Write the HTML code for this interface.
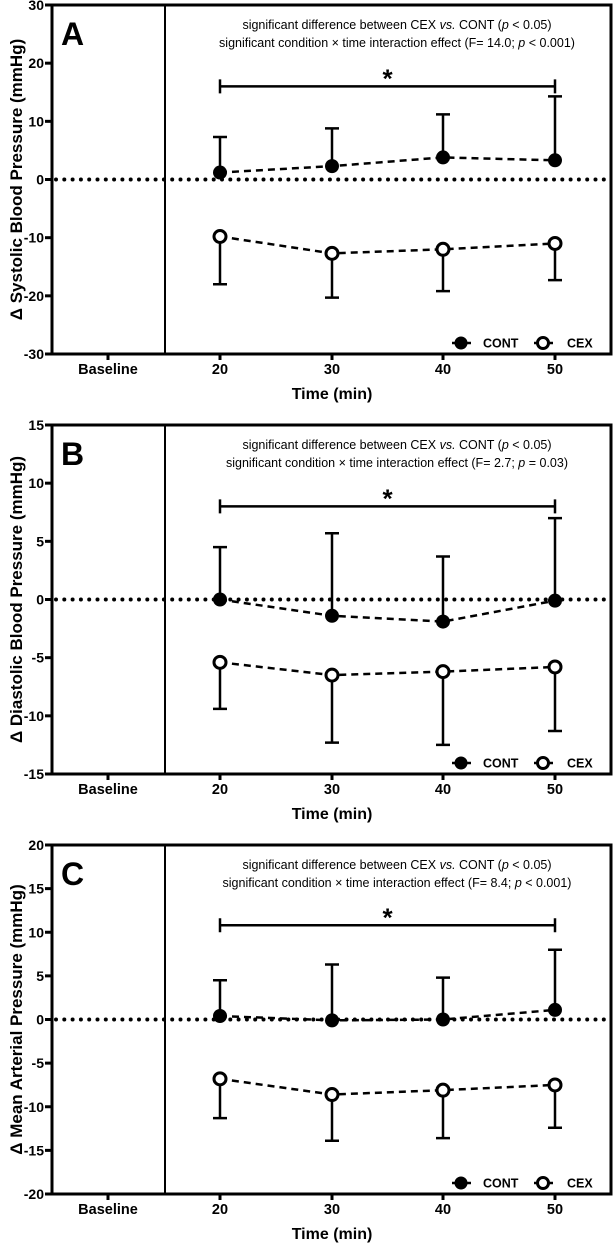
<!DOCTYPE html>
<html><head><meta charset="utf-8"><style>
body{margin:0;background:#fff;}
svg{display:block;font-family:"Liberation Sans",Arial,sans-serif;}
</style></head><body>
<svg id="chart" width="613" height="1249" viewBox="0 0 613 1249" xmlns="http://www.w3.org/2000/svg"></svg>
<script>
const xCats = ["Baseline","20","30","40","50"];
const panelLetters = ["A","B","C"];
const yTitles = ["Δ Systolic Blood Pressure (mmHg)","Δ Diastolic Blood Pressure (mmHg)","Δ Mean Arterial Pressure (mmHg)"];
const statLine2 = ["(F= 14.0; ","(F= 2.7; ","(F= 8.4; "];
const statP = ["p < 0.001)","p = 0.03)","p < 0.001)"];
const yMins = [-30,-15,-20];
const yMaxs = [30,15,20];
const ySteps = [10,5,5];
const sigLevel = [16,8,10.8];
const contA = [1.2,2.3,3.8,3.3];
const contAErr = [7.3,8.8,11.2,14.3];
const cexA = [-9.8,-12.7,-12,-11];
const cexAErr = [-18,-20.3,-19.2,-17.3];
const contB = [0,-1.4,-1.9,-0.1];
const contBErr = [4.5,5.7,3.7,7.0];
const cexB = [-5.4,-6.5,-6.2,-5.8];
const cexBErr = [-9.4,-12.3,-12.5,-11.3];
const contC = [0.4,-0.1,0,1.1];
const contCErr = [4.5,6.3,4.8,8.0];
const cexC = [-6.8,-8.6,-8.1,-7.5];
const cexCErr = [-11.3,-13.9,-13.6,-12.4];
const contS=[contA,contB,contC], contE=[contAErr,contBErr,contCErr];
const cexS=[cexA,cexB,cexC], cexE=[cexAErr,cexBErr,cexCErr];

const NS="http://www.w3.org/2000/svg";
const svg=document.getElementById('chart');
function mk(tag,attrs,parent,text){const e=document.createElementNS(NS,tag);for(const k in attrs)e.setAttribute(k,attrs[k]);if(text!==undefined)e.textContent=text;parent.appendChild(e);return e;}

const L=52,R=611,catX=[108,220,332,443,555];
for(let p=0;p<3;p++){
  const T=5+p*420,B=354+p*420;
  const g=mk('g',{},svg);
  
  
  const y=v=>B-(v-yMins[p])/(yMaxs[p]-yMins[p])*(B-T);
  const x=i=>catX[i];
  const fr=mk('rect',{x:L,y:T,width:R-L,height:B-T,fill:'none',stroke:'#000','stroke-width':3},g);
  
  const vl=mk('line',{x1:165,x2:165,y1:T,y2:B,stroke:'#000','stroke-width':2},g);
  
  for(let v=yMins[p];v<=yMaxs[p];v+=ySteps[p]){
    mk('line',{x1:L-7,x2:L,y1:y(v),y2:y(v),stroke:'#000','stroke-width':3},g);
    const t=mk('text',{x:L-8,y:y(v)+5,'text-anchor':'end','font-size':14,'font-weight':'bold'},g,String(v));
    
  }
  xCats.forEach((c,i)=>{
    mk('line',{x1:x(i),x2:x(i),y1:B,y2:B+6,stroke:'#000','stroke-width':3},g);
    const t=mk('text',{x:x(i),y:B+20,'text-anchor':'middle','font-size':14.5,'font-weight':'bold'},g,c);
    
  });
  const xt=mk('text',{x:332,y:B+45,'text-anchor':'middle','font-size':16,'font-weight':'bold'},g,'Time (min)');
  
  const yt=mk('text',{transform:`translate(22,${(T+B)/2}) rotate(-90)`,'text-anchor':'middle','font-size':17,'font-weight':'bold'},g,yTitles[p]);
  
  const lt=mk('text',{x:61,y:T+40,'font-size':32,'font-weight':'bold'},g,panelLetters[p]);
  
  const s1=mk('text',{x:397,y:T+24,'text-anchor':'middle','font-size':12.5},g);
  
  s1.innerHTML='significant difference between CEX <tspan font-style="italic">vs.</tspan> CONT (<tspan font-style="italic">p</tspan> &lt; 0.05)';
  const s2=mk('text',{x:397,y:T+42,'text-anchor':'middle','font-size':12.5},g);
  
  s2.innerHTML='significant condition × time interaction effect '+statLine2[p]+'<tspan font-style="italic">p</tspan>'+statP[p].slice(1);
  const zl=mk('line',{x1:L+4,x2:R,y1:y(0),y2:y(0),stroke:'#000','stroke-width':4,'stroke-dasharray':'0 8.3','stroke-linecap':'round'},g);
  
  const sy=y(sigLevel[p]);
  const sb=mk('path',{d:`M${x(1)},${sy}H${x(4)}M${x(1)},${sy-7}V${sy+7}M${x(4)},${sy-7}V${sy+7}`,stroke:'#000','stroke-width':2.5,fill:'none'},g);
  
  const st=mk('text',{x:(x(1)+x(4))/2,y:sy+1,'text-anchor':'middle','font-size':26,'font-weight':'bold'},g,'*');
  
  [[contS[p],contE[p],'#000','cont'],[cexS[p],cexE[p],'#fff','cex']].forEach(([vals,errs,fill,nm])=>{
    vals.forEach((v,i)=>{
      const e=mk('path',{d:`M${x(i+1)},${y(v)}V${y(errs[i])}M${x(i+1)-7},${y(errs[i])}H${x(i+1)+7}`,stroke:'#000','stroke-width':2.5,fill:'none'},g);
      
    });
    const ln=mk('polyline',{points:vals.map((v,i)=>x(i+1)+','+y(v)).join(' '),fill:'none',stroke:'#000','stroke-width':2.5,'stroke-dasharray':'7 5'},g);
    
    vals.forEach((v,i)=>{
      const c=mk('circle',{cx:x(i+1),cy:y(v),r:fill==='#000'?7:6,fill:fill,stroke:'#000','stroke-width':fill==='#000'?0:3},g);
      
    });
  });
  const lg=mk('g',{},g);
  
  const ly=B-11;
  mk('line',{x1:452,x2:471,y1:ly,y2:ly,stroke:'#000','stroke-width':2.5},lg);
  mk('circle',{cx:461,cy:ly,r:6.5,fill:'#000'},lg);
  mk('text',{x:483,y:ly+4.5,'font-size':12.5,'font-weight':'bold'},lg,'CONT');
  mk('line',{x1:534,x2:553,y1:ly,y2:ly,stroke:'#000','stroke-width':2.5},lg);
  mk('circle',{cx:543,cy:ly,r:5.5,fill:'#fff',stroke:'#000','stroke-width':3},lg);
  mk('text',{x:567,y:ly+4.5,'font-size':12.5,'font-weight':'bold'},lg,'CEX');
}
</script>
</body></html>
